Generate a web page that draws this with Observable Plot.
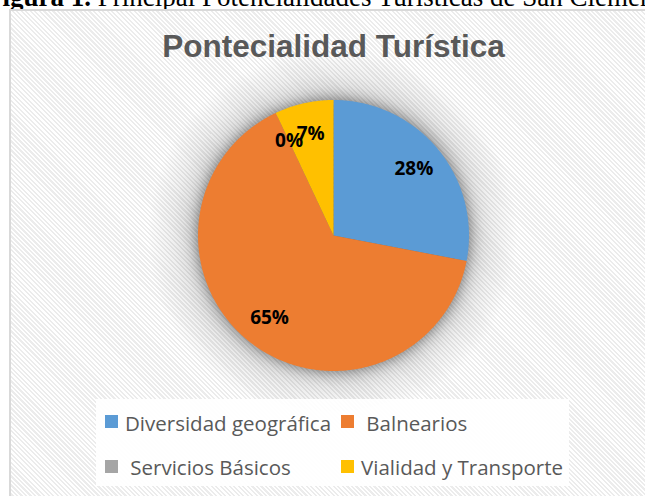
<!DOCTYPE html>
<html>
<head>
<meta charset="utf-8">
<script src="https://cdn.jsdelivr.net/npm/d3@7"></script>
<script src="https://cdn.jsdelivr.net/npm/@observablehq/plot@0.6"></script>
<style>
html,body{margin:0;padding:0;width:645px;height:496px;overflow:hidden;background:#fff;}
#caption{position:absolute;left:-14px;top:-16px;font-family:"Liberation Serif","Times New Roman",serif;font-size:27px;line-height:26px;white-space:nowrap;color:#000;}
#caption b{font-weight:bold;}
#frame{position:absolute;left:9px;top:9px;width:650px;height:500px;border-left:2px solid #d9d9d9;border-top:2px solid #d9d9d9;
  background:
    radial-gradient(circle at 321.5px 223.5px, rgba(0,0,0,0.16) 0px, rgba(0,0,0,0.16) 136px, rgba(0,0,0,0.06) 160px, rgba(0,0,0,0) 185px),
    repeating-linear-gradient(45deg, #ffffff 0px, #ffffff 1.6px, #ececec 1.6px, #ececec 3.2px);}
#title{position:absolute;left:0;width:667px;top:31px;text-align:center;font-family:"Liberation Sans",Arial,sans-serif;font-weight:bold;font-size:31.5px;line-height:31.5px;color:#595959;white-space:nowrap;z-index:3;}
#chart{position:absolute;left:152.5px;top:54.5px;z-index:2;}
#legendbox{position:absolute;left:96px;top:399px;width:473px;height:87px;background:rgba(255,255,255,0.92);z-index:2;}
.item{position:absolute;font-family:"Open Sans",sans-serif;font-size:20.5px;line-height:20px;color:#595959;white-space:pre;}
.sw{position:absolute;width:13px;height:13px;}
</style>
</head>
<body>
<div id="caption"><b>Figura 1.</b> Principal Potencialidades Turísticas de San Clemente</div>
<div id="frame"></div>
<div id="title">Pontecialidad Turística</div>
<div id="chart"></div>
<div id="legendbox"></div>
<script>
// Data
const categories = ["Diversidad geográfica", " Balnearios", " Servicios Básicos", "Vialidad y Transporte"];
const values = [28, 65, 0, 7];
const colors = ["#5B9BD5", "#ED7D31", "#A5A5A5", "#FFC000"];

const size = 360;          // svg size in px
const R = 135.5;           // pie radius in px
const S = (size / 2) / R;  // domain half-extent in radius units
const total = d3.sum(values);
const arcs = d3.pie().sort(null).value((d, i) => values[i])(categories);

// polygon points for each slice (unit radius, clockwise from 12 o'clock)
const pts = [];
arcs.forEach((a, i) => {
  if (a.endAngle - a.startAngle <= 0) return;
  const name = categories[i];
  pts.push({name, x: 0, y: 0});
  const n = Math.max(2, Math.ceil((a.endAngle - a.startAngle) / 0.01));
  for (let k = 0; k <= n; k++) {
    const t = a.startAngle + (a.endAngle - a.startAngle) * k / n;
    pts.push({name, x: Math.sin(t), y: Math.cos(t)});
  }
  pts.push({name, x: 0, y: 0});
});

const labelR = 0.77;
const labels = arcs.map((a, i) => {
  const m = (a.startAngle + a.endAngle) / 2;
  return {x: labelR * Math.sin(m), y: labelR * Math.cos(m), text: Math.round(values[i] / total * 100) + "%"};
});

const plot = Plot.plot({
  width: size, height: size, margin: 0,
  style: {background: "transparent", overflow: "visible"},
  x: {domain: [-S, S], axis: null},
  y: {domain: [-S, S], axis: null},
  color: {domain: categories, range: colors},
  marks: [
    Plot.line(pts, {x: "x", y: "y", z: "name", fill: "name", stroke: "none", curve: "linear"}),
    Plot.text(labels, {x: "x", y: "y", text: "text", fill: "black", fontSize: 19, fontWeight: "bold",
      fontFamily: "'Open Sans', sans-serif", textAnchor: "middle", lineAnchor: "middle"})
  ]
});
const lg = plot.querySelector('g[aria-label="line"]');
if (lg) lg.style.filter = "drop-shadow(0px 0px 7px rgba(0,0,0,0.45))";
document.getElementById("chart").appendChild(plot);

// Legend (HTML, below the pie)
const colX = [105, 341], rowY = [415, 459.5], baseY = [429, 473];
categories.forEach((c, i) => {
  const col = i % 2, row = Math.floor(i / 2);
  const sw = document.createElement("div");
  sw.className = "sw";
  sw.style.left = colX[col] + "px"; sw.style.top = rowY[row] + "px";
  sw.style.background = colors[i]; sw.style.zIndex = 3;
  document.body.appendChild(sw);
  const t = document.createElement("div");
  t.className = "item";
  t.textContent = c;
  t.style.left = (colX[col] + 20) + "px";
  t.style.top = (baseY[row] - 16) + "px";
  t.style.zIndex = 3;
  document.body.appendChild(t);
});
</script>
</body>
</html>
